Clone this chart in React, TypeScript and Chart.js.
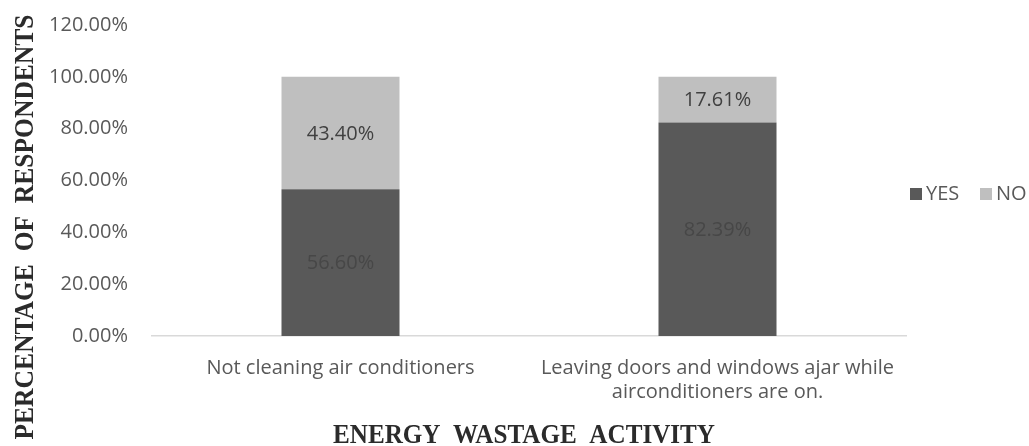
import React, { useEffect, useRef } from "react";
import { Chart, registerables } from "chart.js";

Chart.register(...registerables);

// Chart data
const categories: (string | string[])[] = [
  "Not cleaning air conditioners",
  ["Leaving doors and windows ajar while", "airconditioners are on."],
];
const yesValues = [56.6, 82.39];
const noValues = [43.4, 17.61];
const seriesNames = ["YES", "NO"];
const yMax = 120;
const yStep = 20;
const xAxisTitle = "ENERGY  WASTAGE  ACTIVITY";
const yAxisTitle = "PERCENTAGE  OF  RESPONDENTS";

// Styling
const YES_COLOR = "#595959";
const NO_COLOR = "#bfbfbf";
const TEXT_COLOR = "#595959";
const TITLE_COLOR = "#2b2b2b";
const SANS = "'Open Sans', sans-serif";
const SERIF = "'Liberation Serif', 'Times New Roman', serif";
const W = 1029;
const H = 446;

const pct = (v: number) => v.toFixed(2) + "%";

// Writes each stacked segment's value in the middle of the segment
const segmentLabels = {
  id: "segmentLabels",
  afterDatasetsDraw(chart: any) {
    const ctx = chart.ctx;
    const colors = ["#474747", "#404040"];
    ctx.save();
    ctx.font = `20px ${SANS}`;
    ctx.textAlign = "center";
    ctx.textBaseline = "middle";
    chart.data.datasets.forEach((ds: any, di: number) => {
      const meta = chart.getDatasetMeta(di);
      meta.data.forEach((bar: any, i: number) => {
        const y = (bar.y + bar.base) / 2;
        ctx.fillStyle = colors[di];
        ctx.fillText(pct(ds.data[i]), bar.x, y + 1);
      });
    });
    ctx.restore();
  },
};

// Draws text squeezed or stretched along its run to span a given length
function drawFitted(
  ctx: CanvasRenderingContext2D,
  text: string,
  cx: number,
  cy: number,
  length: number,
  rotate: boolean
) {
  ctx.save();
  ctx.translate(cx, cy);
  if (rotate) ctx.rotate(-Math.PI / 2);
  const w = ctx.measureText(text).width;
  ctx.scale(length / w, 1);
  ctx.fillText(text, 0, 0);
  ctx.restore();
}

// Axis titles and the legend at the right
const decorations = {
  id: "decorations",
  afterDraw(chart: any) {
    const ctx: CanvasRenderingContext2D = chart.ctx;
    ctx.save();
    ctx.fillStyle = TITLE_COLOR;
    ctx.textAlign = "center";
    ctx.textBaseline = "alphabetic";
    ctx.font = `bold 28px ${SERIF}`;
    drawFitted(ctx, yAxisTitle, 33, 227, 425, true);
    ctx.font = `bold 27px ${SERIF}`;
    drawFitted(ctx, xAxisTitle, 524, 443, 382, false);

    const items = [
      { label: seriesNames[0], color: YES_COLOR, x: 910 },
      { label: seriesNames[1], color: NO_COLOR, x: 980 },
    ];
    ctx.font = `20px ${SANS}`;
    ctx.textAlign = "left";
    ctx.textBaseline = "middle";
    items.forEach((it) => {
      ctx.fillStyle = it.color;
      ctx.fillRect(it.x, 188, 12, 12);
      ctx.fillStyle = TEXT_COLOR;
      ctx.fillText(it.label, it.x + 16, 194);
    });
    ctx.restore();
  },
};

export default function App() {
  const canvasRef = useRef<HTMLCanvasElement | null>(null);

  useEffect(() => {
    document.body.style.margin = "0";
    const canvas = canvasRef.current;
    if (!canvas) return;
    const chart = new Chart(canvas, {
      type: "bar",
      data: {
        labels: categories,
        datasets: [
          {
            label: seriesNames[0],
            data: yesValues,
            backgroundColor: YES_COLOR,
            categoryPercentage: 0.313,
            barPercentage: 1,
          },
          {
            label: seriesNames[1],
            data: noValues,
            backgroundColor: NO_COLOR,
            categoryPercentage: 0.313,
            barPercentage: 1,
          },
        ],
      },
      options: {
        responsive: false,
        animation: false,
        devicePixelRatio: 1,
        layout: { padding: { top: 25, right: 123, left: 0, bottom: 0 } },
        plugins: {
          legend: { display: false },
          tooltip: { enabled: false },
        },
        scales: {
          x: {
            stacked: true,
            grid: { display: false, drawTicks: false },
            border: { display: true, color: "#d9d9d9", width: 1.5 },
            ticks: {
              color: TEXT_COLOR,
              font: { family: SANS, size: 20, lineHeight: 1.2 },
              padding: 20,
              maxRotation: 0,
              autoSkip: false,
            },
            afterFit: (s: any) => {
              s.height = 110;
              s.paddingLeft = 0;
              s.paddingRight = 0;
            },
          },
          y: {
            stacked: true,
            min: 0,
            max: yMax,
            grid: { display: false, drawTicks: false },
            border: { display: false },
            ticks: {
              stepSize: yStep,
              padding: 24,
              color: TEXT_COLOR,
              font: { family: SANS, size: 20 },
              callback: (v: any) => pct(Number(v)),
            },
            afterFit: (s: any) => {
              s.width = 152;
              s.paddingTop = 0;
              s.paddingBottom = 0;
            },
          },
        },
      },
      plugins: [segmentLabels, decorations],
    });
    return () => chart.destroy();
  }, []);

  return (
    <div style={{ width: W, height: H, background: "#fff" }}>
      <canvas ref={canvasRef} width={W} height={H} style={{ display: "block" }} />
    </div>
  );
}
